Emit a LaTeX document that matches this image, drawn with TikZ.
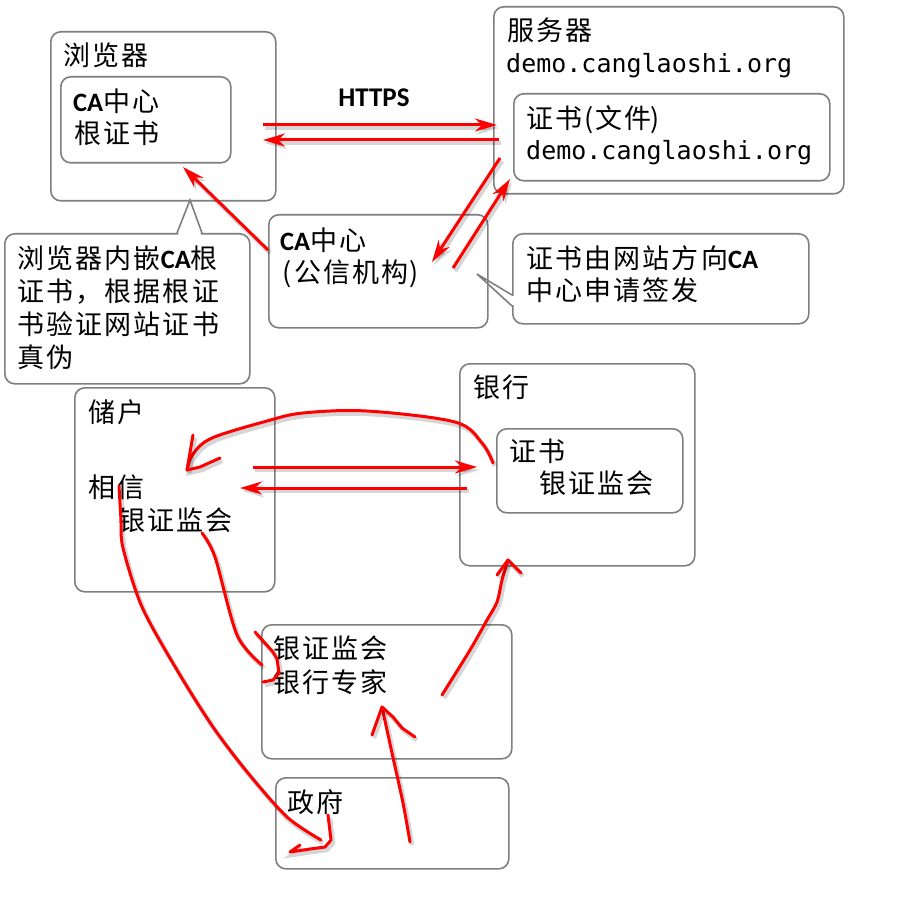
\documentclass[tikz,border=0pt]{standalone}
\usepackage{fontspec}
\setmainfont{Noto Sans CJK SC}[LetterSpace=8]
\newfontfamily\monof{DejaVu Sans Mono}
\newfontfamily\latb{Carlito}
\usetikzlibrary{arrows.meta}
\definecolor{boxgray}{HTML}{7F7F7F}
\newcommand\caB{{\latb\bfseries\fontsize{26.5}{33}\selectfont CA}}
\tikzset{
  box/.style={draw=boxgray, line width=1.6pt, rounded corners=10pt, fill=white, inner sep=0pt, anchor=north west, shape=rectangle},
  txt/.style={anchor=west, inner sep=0pt, font=\fontsize{27}{33}\selectfont, text height=22.4pt, text depth=1.9pt},
  mono/.style={anchor=base west, inner sep=0pt, font=\fontsize{25}{30}\monof},
  shd/.style={preaction={draw=black, draw opacity=0.16, fill opacity=0.16, line width=4.5pt, transform canvas={shift={(2pt,-3pt)}}}},
  arr/.style={shd, draw=red, line width=3pt, -{Stealth[length=22pt,width=13pt,inset=7pt]}},
  free/.style={shd, draw=red, line width=3pt, line cap=round, line join=round},
  ptr/.style={draw=boxgray, line width=1.6pt, line join=miter}
}
\begin{document}
\begin{tikzpicture}[x=1pt,y=-1pt]
\useasboundingbox (0,0) rectangle (900,901);
\fill[white] (0,0) rectangle (900,901);

% boxes
\node[box, minimum width=225pt, minimum height=169pt] (browser) at (50,31) {};
\node[box, minimum width=170pt, minimum height=86pt] (brInner) at (60,76) {};
\node[box, minimum width=350pt, minimum height=187pt] (server) at (493,6) {};
\node[box, minimum width=316pt, minimum height=87pt] (svInner) at (513,93) {};
\node[box, minimum width=219pt, minimum height=113pt] (caBox) at (268,214) {};
\node[box, minimum width=245pt, minimum height=150pt] (call1) at (4,233) {};
\node[box, minimum width=296pt, minimum height=90pt] (call2) at (512,233) {};
\node[box, minimum width=200pt, minimum height=204pt] (depo) at (74,387) {};
\node[box, minimum width=235pt, minimum height=202pt] (bank) at (459,363) {};
\node[box, minimum width=186pt, minimum height=84pt] (bankInner) at (496,428) {};
\node[box, minimum width=250pt, minimum height=134pt] (expert) at (261,624) {};
\node[box, minimum width=233pt, minimum height=91pt] (gov) at (275,777) {};

% callout pointers
\fill[white] (178,235) -- (190,201) -- (201,235) -- cycle;
\draw[ptr] (177,233) -- (190,200) -- (202,233);
\fill[white] (510.5,296) rectangle (513.8,305);
\draw[ptr] (512,295) -- (477,274) -- (512,306);

% texts
\node[txt] (tBrowser) at (63,55) {浏览器};
\node[txt] (tBr1) at (73,101) {\caB 中心};
\node[txt] (tBr2) at (74,133) {根证书};
\node[anchor=center, inner sep=0pt, font=\fontsize{27}{30}\latb\bfseries] (tHttps) at (374,98) {HTTPS};
\node[txt] (tServer) at (507,30) {服务器};
\node[mono] (tDom1) at (506,73) {demo.canglaoshi.org};
\node[txt] (tCert) at (526,118) {证书(\kern2pt 文件\kern-1pt)};
\node[mono] (tDom2) at (526,160) {demo.canglaoshi.org};
\node[txt] (tCa1) at (280,240) {\caB 中心};
\node[txt] (tCa2) at (282,272) {(\kern3pt 公信机构\kern1pt)};
\node[txt] (tC11) at (17,258) {浏览器内嵌\caB 根};
\node[txt] (tC12) at (17,291) {证书，根据根证};
\node[txt] (tC13) at (17,324) {书验证网站证书};
\node[txt] (tC14) at (17,357) {真伪};
\node[txt] (tC21) at (526,258) {证书由网站方向\caB};
\node[txt] (tC22) at (526,290) {中心申请签发};
\node[txt] (tDepo) at (88,412) {储户};
\node[txt] (tTrust) at (88,487) {相信};
\node[txt] (tCbrc1) at (118,520) {银证监会};
\node[txt] (tBank) at (473,387) {银行};
\node[txt] (tBc1) at (509,451) {证书};
\node[txt] (tBc2) at (539,483) {银证监会};
\node[txt] (tEx1) at (273,648) {银证监会};
\node[txt] (tEx2) at (273,682) {银行专家};
\node[txt] (tGov) at (287,802) {政府};

% straight arrows
\coordinate (h1s) at (263,125); \coordinate (h1e) at (497,125);
\coordinate (h2s) at (499,140); \coordinate (h2e) at (263,140);
\draw[arr] (h1s) -- (h1e);
\draw[arr] (h2s) -- (h2e);
\coordinate (a1s) at (268,250); \coordinate (a1e) at (183,167);
\draw[arr] (a1s) -- (a1e);
\coordinate (a2s) at (500,158); \coordinate (a2e) at (432,262);
\draw[arr] (a2s) -- (a2e);
\coordinate (a3s) at (453,268); \coordinate (a3e) at (510,179);
\draw[arr] (a3s) -- (a3e);
\coordinate (b1s) at (253,467); \coordinate (b1e) at (477,467);
\draw[arr] (b1s) -- (b1e);
\coordinate (b2s) at (467,488); \coordinate (b2e) at (240,488);
\draw[arr] (b2s) -- (b2e);

% hand-drawn arrows
\coordinate (f1s) at (493,463); \coordinate (f1e) at (187,470);
\draw[free] plot[smooth, tension=0.55] coordinates {(f1s) (482,443) (455,422) (367,411) (303,413) (267,421) (212,438) (193,454) (f1e)};
\draw[free] (193,435) -- (f1e) -- (200,467) -- (220,458);

\coordinate (f2s) at (202,533); \coordinate (f2e) at (262,665);
\draw[free] plot[smooth, tension=0.5] coordinates {(f2s) (215,557) (237,635) (f2e)};
\draw[free] (255,632) -- (273,652) -- (277,659) -- (279,673) -- (273,680) -- (263,682);

\coordinate (f3s) at (119,486); \coordinate (f3e) at (321,840);
\draw[free] plot[smooth, tension=0.5] coordinates {(f3s) (121,520) (123,548) (142,607) (177,670) (213,727) (248,773) (287,817) (f3e)};
\draw[free] (328,815) -- (331,840) -- (325,847) -- (310,849) -- (290,852) -- (300,845);

\coordinate (f4s) at (410,842); \coordinate (f4e) at (382,707);
\draw[free] plot[smooth, tension=0.5] coordinates {(f4s) (403,803) (392,753) (f4e)};
\draw[free] (372,735) -- (f4e) -- (393,717) -- (402,728) -- (415,737);

\coordinate (f5s) at (442,695); \coordinate (f5e) at (508,560);
\draw[free] plot[smooth, tension=0.5] coordinates {(f5s) (470,650) (487,620) (497,602) (502,580) (f5e)};
\draw[free] (497,575) -- (f5e) -- (521,573);
\end{tikzpicture}
\end{document}
